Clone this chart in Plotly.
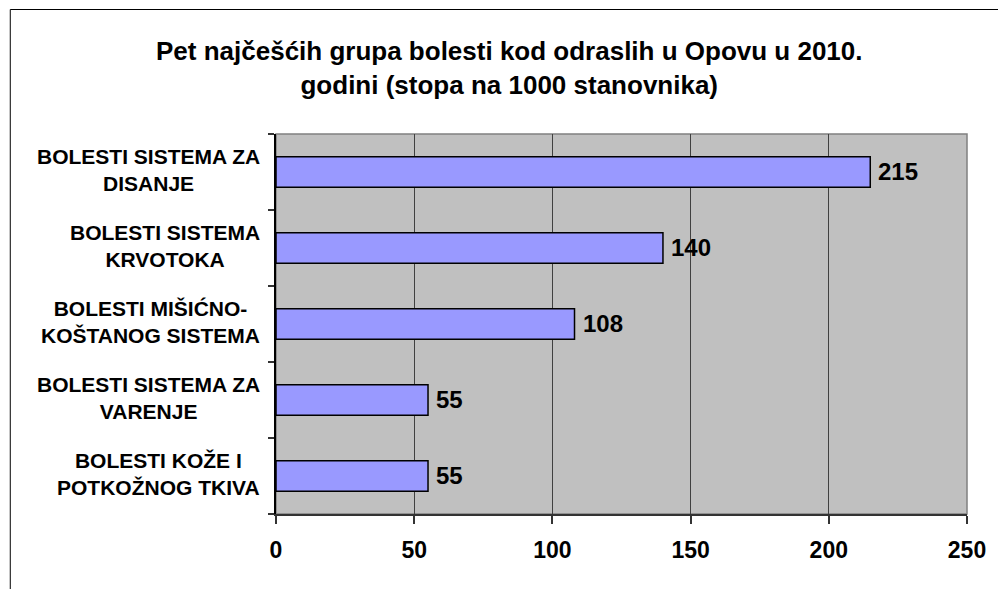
import plotly.graph_objects as go

categories = [
    "BOLESTI SISTEMA ZA<br>DISANJE",
    "BOLESTI SISTEMA<br>KRVOTOKA",
    "BOLESTI MIŠIĆNO-<br>KOŠTANOG SISTEMA",
    "BOLESTI SISTEMA ZA<br>VARENJE",
    "BOLESTI KOŽE I<br>POTKOŽNOG TKIVA",
]
values = [215, 140, 108, 55, 55]
x_ticks = [0, 50, 100, 150, 200, 250]
title_text = "Pet najčešćih grupa bolesti kod odraslih u Opovu u 2010.<br>godini (stopa na 1000 stanovnika)"

FONT = "Liberation Sans, Arial, sans-serif"
W, H = 998, 589
L, R, T, B = 276, 29, 134, 75
pw, ph = W - L - R, H - T - B

pos = list(range(len(categories)))

fig = go.Figure()
fig.add_trace(go.Bar(
    x=values, y=pos, orientation="h", width=0.4,
    marker=dict(color="#9999FF", line=dict(color="#000000", width=1.5)),
    hoverinfo="skip", showlegend=False,
))

annotations = []
for p, v in zip(pos, values):
    annotations.append(dict(x=v, y=p, xref="x", yref="y", text=str(v),
                            showarrow=False, xanchor="left", yanchor="middle",
                            xshift=6, yshift=1,
                            font=dict(family=FONT, size=24, color="#000", weight="bold")))
for p, c in zip(pos, categories):
    annotations.append(dict(x=0, y=p, xref="x", yref="y", text=c, align="center",
                            showarrow=False, xanchor="right", yanchor="middle",
                            xshift=-14, yshift=2,
                            font=dict(family=FONT, size=21, color="#000", weight="bold")))
annotations.append(dict(x=(510 - L) / pw, y=(H - B - 68) / ph, xref="paper", yref="paper",
                        text=title_text, showarrow=False, xanchor="center", yanchor="middle",
                        align="center",
                        font=dict(family=FONT, size=26, color="#000", weight="bold")))

fig.update_layout(
    width=W, height=H,
    margin=dict(l=L, r=R, t=T, b=B, pad=0),
    paper_bgcolor="#FFFFFF", plot_bgcolor="#C0C0C0",
    annotations=annotations,
    xaxis=dict(range=[0, 250], tickvals=x_ticks, ticktext=[str(t) for t in x_ticks],
               showgrid=True, gridcolor="#404040", gridwidth=1, zeroline=False,
               showline=True, linecolor="#333333", linewidth=1.5,
               ticks="outside", ticklen=8, tickcolor="#333333", tickwidth=1.5,
               ticklabelstandoff=7,
               tickfont=dict(family=FONT, size=23, color="#000", weight="bold"),
               fixedrange=True),
    yaxis=dict(range=[len(categories) - 0.5, -0.5],
               tickvals=[i - 0.5 for i in range(len(categories) + 1)],
               showticklabels=False, showgrid=False, zeroline=False,
               showline=True, linecolor="#000000", linewidth=2,
               ticks="outside", ticklen=6, tickcolor="#333333", tickwidth=1.5,
               fixedrange=True),
    shapes=[
        dict(type="rect", xref="paper", yref="paper", x0=0, x1=1, y0=0, y1=1,
             line=dict(color="#808080", width=1.5), layer="below"),
        dict(type="rect", xref="paper", yref="paper",
             x0=(9.5 - L) / pw, x1=(W + 20 - L) / pw,
             y0=(H - B - (H + 20)) / ph, y1=(H - B - 9.5) / ph,
             line=dict(color="#000000", width=1), layer="below"),
    ],
)

fig.write_html("out.html", config={"displayModeBar": False},
               post_script="document.body.style.margin='0px';")
